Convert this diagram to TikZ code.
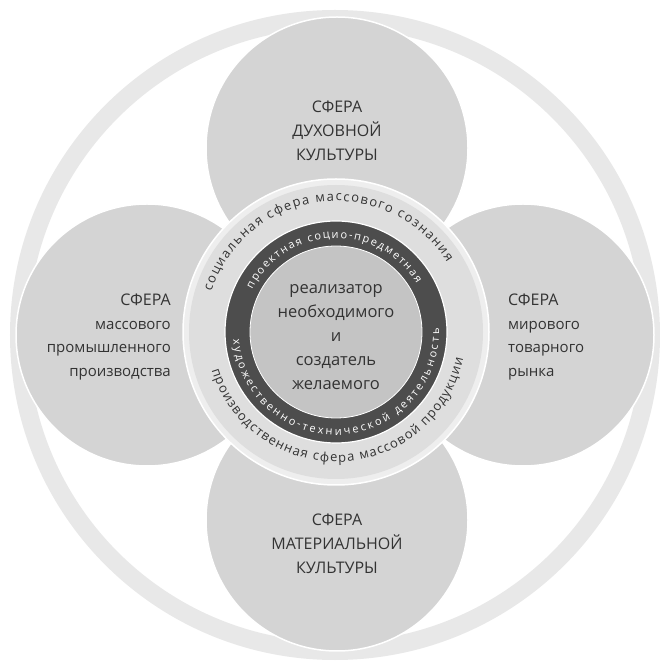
\documentclass[tikz,border=0pt]{standalone}
\usepackage{fontspec}
\setmainfont{Open Sans}
\usetikzlibrary{decorations.text}
\definecolor{ringgray}{HTML}{E8E8E8}
\definecolor{satgray}{HTML}{D4D4D4}
\definecolor{bandlight}{HTML}{EEEEEE}
\definecolor{bandmid}{HTML}{DEDEDE}
\definecolor{darkring}{HTML}{4D4D4D}
\definecolor{corefill}{HTML}{C4C4C4}
\definecolor{txt}{HTML}{333333}
\newcommand\capsfont{\fontsize{16}{24}\selectfont}
\newcommand\lowfont{\fontsize{15}{23.5}\selectfont}
\newcommand\corefont{\fontsize{16.5}{24}\selectfont}
\newcommand\bandfont{\fontsize{13}{13}\selectfont}
\newcommand\darkfont{\fontsize{11}{12}\selectfont}
\begin{document}
\begin{tikzpicture}[x=1pt,y=1pt,
  sat/.style={circle, fill=satgray, draw=white, line width=1.5pt, minimum size=262pt, inner sep=0pt},
  txtnode/.style={text=txt, inner sep=0pt},
  ringtext/.style={decorate, decoration={text along path, text align={fit to path}, text={#1}}}
]
\useasboundingbox (0,0) rectangle (660,662);
\fill[white] (0,0) rectangle (660,662);
% outer ring
\node[circle, draw=ringgray, line width=18pt, minimum size=632pt, inner sep=0pt] (outer) at (335,327) {};
% satellite spheres
\node[sat] (top) at (337,514) {};
\node[sat] (bottom) at (337,142) {};
\node[sat] (left) at (147,327) {};
\node[sat] (right) at (523,327) {};
% central structure
\coordinate (c) at (336,330);
\node[circle, fill=bandlight, draw=white, line width=1.5pt, minimum size=306pt, inner sep=0pt] (band) at (c) {};
\node[circle, fill=bandmid, minimum size=294pt, inner sep=0pt] (textband) at (c) {};
\node[circle, fill=darkring, draw=white, line width=1.2pt, minimum size=222pt, inner sep=0pt] (dark) at (c) {};
\node[circle, fill=corefill, draw=white, line width=0.8pt, minimum size=172pt, inner sep=0pt] (core) at (c) {};
% sphere texts
\node[txtnode, align=center, font=\capsfont] (toptext) at (337,531) {СФЕРА\\ДУХОВНОЙ\\КУЛЬТУРЫ};
\node[txtnode, align=center, font=\capsfont] (bottomtext) at (337,118) {СФЕРА\\МАТЕРИАЛЬНОЙ\\КУЛЬТУРЫ};
\node[txtnode, align=right, anchor=east, font=\lowfont] (lefttext) at (171,325) {{\capsfont СФЕРА}\\массового\\промышленного\\производства};
\node[txtnode, align=left, anchor=west, font=\lowfont] (righttext) at (508,325) {{\capsfont СФЕРА}\\мирового\\товарного\\рынка};
\node[txtnode, align=center, font=\corefont] (coretext) at (336,325) {реализатор\\необходимого\\и\\создатель\\желаемого};
% ring texts
\path[ringtext={|\bandfont\color{txt}|социальная сфера массового сознания}] ([shift={(162:131)}]c) arc[start angle=162, end angle=32, radius=131];
\path[ringtext={|\bandfont\color{txt}|производственная сфера массовой продукции}] ([shift={(197:130)}]c) arc[start angle=197, end angle=348, radius=130];
\path[ringtext={|\darkfont\color{white}|проектная социо-предметная}] ([shift={(153:94)}]c) arc[start angle=153, end angle=31, radius=94];
\path[ringtext={|\darkfont\color{white}|художественно-технической деятельность}] ([shift={(184:103)}]c) arc[start angle=184, end angle=362, radius=103];
\end{tikzpicture}
\end{document}
